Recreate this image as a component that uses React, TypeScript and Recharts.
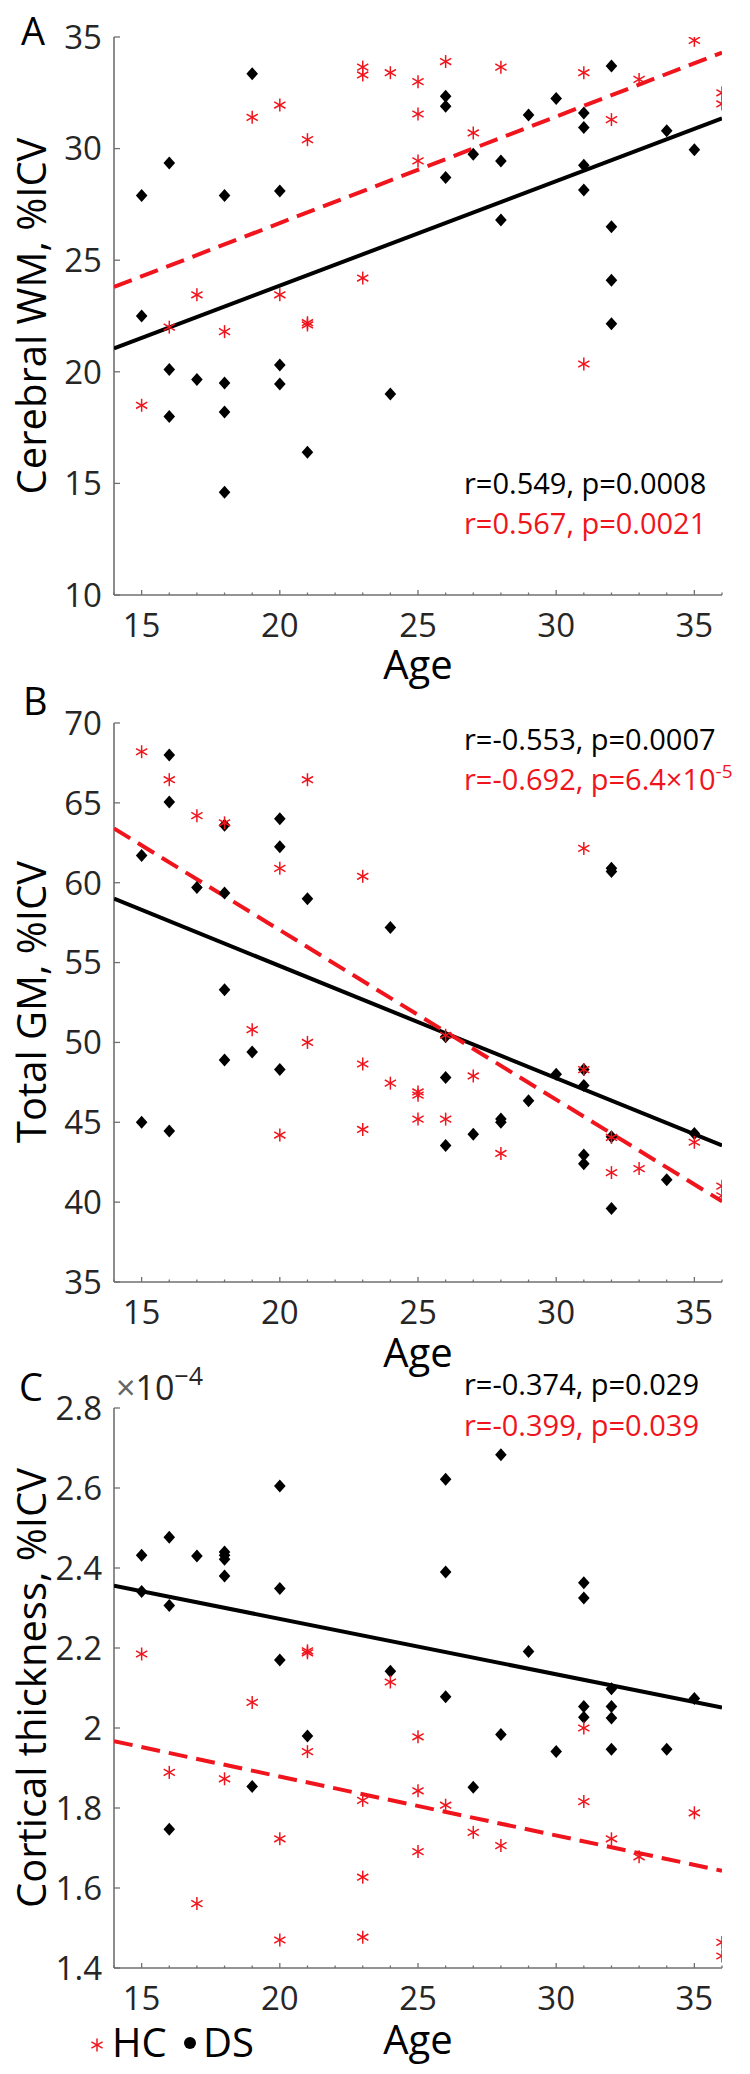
import React from 'react';
import { ScatterChart, Scatter, XAxis, YAxis } from 'recharts';

// age axis shared by all three panels (minor tick every year, label every 5)
const ageTicks = [14, 15, 16, 17, 18, 19, 20, 21, 22, 23, 24, 25, 26, 27, 28, 29, 30, 31, 32, 33, 34, 35, 36];
const wmTicks = [10, 15, 20, 25, 30, 35];
const gmTicks = [35, 40, 45, 50, 55, 60, 65, 70];
const ctTicks = [1.4, 1.6, 1.8, 2, 2.2, 2.4, 2.6, 2.8];

// A: cerebral WM, %ICV  -> [age, value]
const wmDS: [number, number][] = [
  [15, 27.9], [15, 22.5], [16, 29.35], [16, 20.1], [16, 18.0], [17, 19.65],
  [18, 27.9], [18, 19.5], [18, 18.2], [18, 14.6], [19, 33.35], [20, 28.1],
  [20, 20.3], [20, 19.45], [21, 16.4], [24, 19.0], [26, 32.35], [26, 31.9],
  [26, 28.7], [27, 29.75], [28, 29.45], [28, 26.8], [29, 31.5], [30, 32.25],
  [31, 31.6], [31, 30.95], [31, 29.25], [31, 28.15], [32, 33.7], [32, 26.5],
  [32, 24.1], [32, 22.15], [34, 30.8], [35, 29.95],
];
const wmHC: [number, number][] = [
  [15, 18.5], [16, 22.0], [17, 23.45], [18, 21.8], [19, 31.4], [20, 31.95],
  [20, 23.45], [21, 30.4], [21, 22.2], [21, 22.1], [23, 33.65], [23, 33.3],
  [23, 24.2], [24, 33.4], [25, 33.0], [25, 31.55], [25, 29.45], [26, 33.9],
  [27, 30.7], [28, 33.65], [31, 33.4], [31, 20.35], [32, 31.3], [33, 33.1],
  [35, 34.85], [36, 32.5], [36, 32.0],
];
const wmFitDS: [number, number][] = [[14, 21.05], [36, 31.35]];
const wmFitHC: [number, number][] = [[14, 23.8], [36, 34.3]];

// B: total GM, %ICV
const gmDS: [number, number][] = [
  [15, 61.7], [15, 45.0], [16, 68.0], [16, 65.05], [16, 44.45], [17, 59.7],
  [18, 63.6], [18, 59.35], [18, 53.3], [18, 48.9], [19, 49.4], [20, 64.0],
  [20, 62.25], [20, 48.3], [21, 59.0], [24, 57.2], [26, 50.35], [26, 47.8],
  [26, 43.55], [27, 44.25], [28, 45.0], [28, 45.2], [29, 46.35], [30, 48.0],
  [31, 48.3], [31, 47.3], [31, 42.95], [31, 42.4], [32, 60.9], [32, 60.7],
  [32, 44.1], [32, 39.6], [34, 41.4], [35, 44.3],
];
const gmHC: [number, number][] = [
  [15, 68.2], [16, 66.45], [17, 64.2], [18, 63.75], [19, 50.8], [20, 60.9],
  [20, 44.2], [21, 66.45], [21, 50.0], [23, 60.4], [23, 48.65], [23, 44.55],
  [24, 47.45], [25, 46.9], [25, 46.7], [25, 45.2], [26, 50.45], [26, 45.2],
  [27, 47.9], [28, 43.05], [31, 62.15], [31, 48.3], [32, 44.05], [32, 41.85],
  [33, 42.1], [35, 43.75], [36, 41.0], [36, 40.4],
];
const gmFitDS: [number, number][] = [[14, 59.0], [36, 43.55]];
const gmFitHC: [number, number][] = [[14, 63.4], [36, 40.05]];

// C: cortical thickness, %ICV (x1e-4)
const ctDS: [number, number][] = [
  [15, 2.432], [15, 2.341], [16, 2.477], [16, 2.306], [16, 1.747], [17, 2.43],
  [18, 2.44], [18, 2.432], [18, 2.422], [18, 2.38], [19, 1.854], [20, 2.605],
  [20, 2.349], [20, 2.17], [21, 1.98], [24, 2.142], [26, 2.622], [26, 2.39],
  [26, 2.078], [27, 1.852], [28, 2.683], [28, 1.984], [29, 2.191], [30, 1.941],
  [31, 2.363], [31, 2.325], [31, 2.054], [31, 2.027], [32, 2.098], [32, 2.054],
  [32, 2.025], [32, 1.947], [34, 1.947], [35, 2.074],
];
const ctHC: [number, number][] = [
  [15, 2.185], [16, 1.889], [17, 1.561], [18, 1.873], [19, 2.064], [20, 1.723],
  [20, 1.47], [21, 2.193], [21, 2.188], [21, 1.941], [23, 1.819], [23, 1.627],
  [23, 1.477], [24, 2.115], [25, 1.978], [25, 1.843], [25, 1.691], [26, 1.807],
  [27, 1.739], [28, 1.706], [31, 2.0], [31, 1.816], [32, 1.723], [33, 1.678],
  [35, 1.788], [36, 1.464], [36, 1.43],
];
const ctFitDS: [number, number][] = [[14, 2.356], [36, 2.051]];
const ctFitHC: [number, number][] = [[14, 1.967], [36, 1.643]];

const RED = '#f0141c';
const AXIS = '#707070';
const TICK_TXT = '#262626';
const FONT = 'Open Sans, sans-serif';

const toPts = (arr: [number, number][]) => arr.map(([age, v]) => ({ age, v }));

const Diamond = (p: any) => {
  const { cx, cy } = p;
  return <path d={`M${cx},${cy - 6.5}L${cx + 5.8},${cy}L${cx},${cy + 6.5}L${cx - 5.8},${cy}Z`} fill="#000" />;
};

const Star = ({ cx, cy }: any) => (
  <g stroke={RED} strokeWidth={1.5}>
    <line x1={cx} y1={cy - 6.5} x2={cx} y2={cy + 6.5} />
    <line x1={cx - 5.6} y1={cy - 3.2} x2={cx + 5.6} y2={cy + 3.2} />
    <line x1={cx - 5.6} y1={cy + 3.2} x2={cx + 5.6} y2={cy - 3.2} />
  </g>
);

const NoMark = () => <g />;

const AgeTick = ({ x, y, payload }: any) => {
  const major = payload.value % 5 === 0;
  return (
    <g>
      <line x1={x} x2={x} y1={y} y2={y - (major ? 5 : 2.5)} stroke={AXIS} strokeWidth={1.3} />
      {major && (
        <text x={x} y={y + 42} textAnchor="middle" fontSize={33} fontFamily={FONT} fill={TICK_TXT}>
          {payload.value}
        </text>
      )}
    </g>
  );
};

const ValTick = ({ x, y, payload }: any) => (
  <g>
    <line x1={x} x2={x + 6} y1={y} y2={y} stroke={AXIS} strokeWidth={1.3} />
    <text x={x - 12} y={y} dy="0.36em" textAnchor="end" fontSize={33} fontFamily={FONT} fill={TICK_TXT}>
      {String(payload.value)}
    </text>
  </g>
);

interface PanelProps {
  top: number;
  height: number;
  plotTop: number;
  plotBottom: number;
  yDomain: [number, number];
  yTicks: number[];
  ds: [number, number][];
  hc: [number, number][];
  fitDs: [number, number][];
  fitHc: [number, number][];
}

const Panel: React.FC<PanelProps> = ({ top, height, plotTop, plotBottom, yDomain, yTicks, ds, hc, fitDs, fitHc }) => (
  <div style={{ position: 'absolute', left: 0, top, width: 750, height }}>
    <ScatterChart width={750} height={height} margin={{ top: plotTop - top, right: 28, bottom: 0, left: 0 }}>
      <XAxis
        type="number" dataKey="age" domain={[14, 36]} ticks={ageTicks} interval={0}
        height={top + height - plotBottom} tickSize={0} tickMargin={0} tickLine={false}
        axisLine={{ stroke: AXIS, strokeWidth: 1.6 }} tick={AgeTick} allowDataOverflow
      />
      <YAxis
        type="number" dataKey="v" domain={yDomain} ticks={yTicks} interval={0}
        width={114} tickSize={0} tickMargin={0} tickLine={false}
        axisLine={{ stroke: AXIS, strokeWidth: 1.6 }} tick={ValTick} allowDataOverflow
      />
      <Scatter data={toPts(fitDs)} line={{ stroke: '#000', strokeWidth: 4 }} shape={NoMark} isAnimationActive={false} />
      <Scatter data={toPts(fitHc)} line={{ stroke: RED, strokeWidth: 4, strokeDasharray: '19 9' }} shape={NoMark} isAnimationActive={false} />
      <Scatter data={toPts(ds)} shape={Diamond} isAnimationActive={false} />
      <Scatter data={toPts(hc)} shape={Star} isAnimationActive={false} />
    </ScatterChart>
  </div>
);

const Note = ({ y, color, children }: any) => (
  <text x={464} y={y} fontSize={29} fontFamily={FONT} fill={color}>{children}</text>
);

const YTitle = ({ cy, children }: any) => (
  <text transform={`translate(46, ${cy}) rotate(-90)`} textAnchor="middle" fontSize={40} fontFamily={FONT} fill="#000">
    {children}
  </text>
);

const AgeTitle = ({ y }: any) => (
  <text x={418} y={y} textAnchor="middle" fontSize={40} fontFamily={FONT} fill="#000">Age</text>
);

const Letter = ({ x, y, children }: any) => (
  <text x={x} y={y} fontSize={38} fontFamily={FONT} fill="#000">{children}</text>
);

export default function App() {
  return (
    <div style={{ position: 'absolute', left: 0, top: 0, width: 750, height: 2074, background: '#fff' }}>
      <Panel top={0} height={690} plotTop={37} plotBottom={595} yDomain={[10, 35]} yTicks={wmTicks}
        ds={wmDS} hc={wmHC} fitDs={wmFitDS} fitHc={wmFitHC} />
      <Panel top={690} height={680} plotTop={723} plotBottom={1282} yDomain={[35, 70]} yTicks={gmTicks}
        ds={gmDS} hc={gmHC} fitDs={gmFitDS} fitHc={gmFitHC} />
      <Panel top={1370} height={704} plotTop={1408} plotBottom={1968} yDomain={[1.4, 2.8]} yTicks={ctTicks}
        ds={ctDS} hc={ctHC} fitDs={ctFitDS} fitHc={ctFitHC} />

      <svg width={750} height={2074} style={{ position: 'absolute', left: 0, top: 0, pointerEvents: 'none' }}>
        <Letter x={21} y={45}>A</Letter>
        <Letter x={23} y={715}>B</Letter>
        <Letter x={19} y={1401}>C</Letter>

        <YTitle cy={316}>Cerebral WM, %ICV</YTitle>
        <YTitle cy={1002}>Total GM, %ICV</YTitle>
        <YTitle cy={1688}>Cortical thickness, %ICV</YTitle>

        <AgeTitle y={679} />
        <AgeTitle y={1367} />
        <AgeTitle y={2054} />

        <Note y={494} color="#000">r=0.549, p=0.0008</Note>
        <Note y={534} color={RED}>r=0.567, p=0.0021</Note>
        <Note y={750} color="#000">r=-0.553, p=0.0007</Note>
        <Note y={790} color={RED}>
          r=-0.692, p=6.4×10<tspan dy={-12} fontSize={19}>-5</tspan>
        </Note>
        <Note y={1395} color="#000">r=-0.374, p=0.029</Note>
        <Note y={1436} color={RED}>r=-0.399, p=0.039</Note>

        <text x={116} y={1400} fontSize={34} fontFamily={FONT} fill={TICK_TXT}>
          <tspan fill="#666">×</tspan>10<tspan dy={-15} fontSize={25}>−4</tspan>
        </text>

        <Star cx={97} cy={2045} />
        <text x={112} y={2057} fontSize={40} fontFamily={FONT} fill="#000">HC</text>
        <circle cx={190} cy={2043} r={6} fill="#000" />
        <text x={203} y={2057} fontSize={40} fontFamily={FONT} fill="#000">DS</text>
      </svg>
    </div>
  );
}
